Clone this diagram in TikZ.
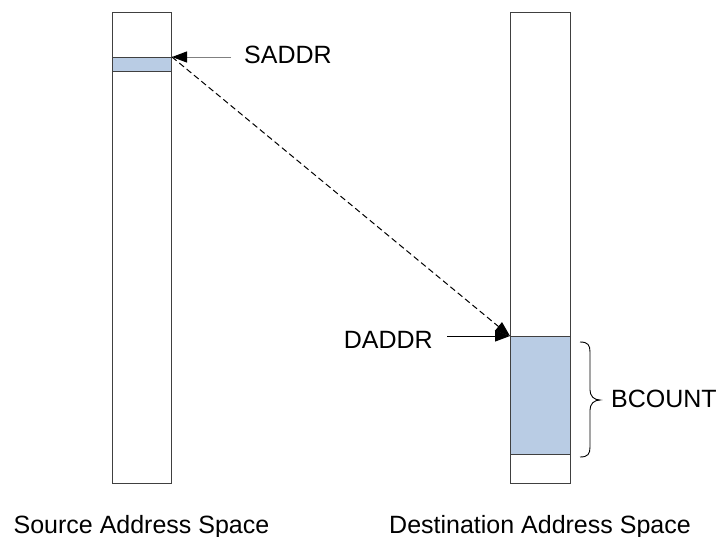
\documentclass[tikz,border=0pt]{standalone}
\usepackage{fontspec}
\setmainfont{Liberation Sans}
\usetikzlibrary{arrows.meta}
\definecolor{blkfill}{HTML}{B9CCE4}
\definecolor{edgegray}{HTML}{404040}
\tikzset{
  column/.style={draw=edgegray, line width=1pt, fill=white, inner sep=0pt, minimum width=#1, anchor=north west},
  region/.style={draw=edgegray, line width=1pt, fill=blkfill, inner sep=0pt, anchor=north west},
  lbl/.style={inner sep=0pt, font=\fontsize{25}{30}\selectfont},
  tip/.style={-{Triangle[length=15pt,width=11pt,black]}},
  pointer/.style={tip, line width=1pt},
}
\begin{document}
\begin{tikzpicture}[x=1pt,y=-1pt]
\useasboundingbox (0,0) rectangle (723,536);
% columns
\node[column=59pt, minimum height=471pt] (srccol) at (112,12) {};
\node[region, minimum width=59pt, minimum height=14pt] (srcblk) at (112,57) {};
\node[column=60pt, minimum height=471pt] (dstcol) at (510,12) {};
\node[region, minimum width=60pt, minimum height=118pt] (dstblk) at (510,336) {};
% labels
\node[lbl, anchor=west] (saddr) at (244,55) {SADDR};
\node[lbl, anchor=east] (daddr) at (433,340) {DADDR};
\node[lbl, anchor=west] (bcount) at (611,399) {BCOUNT};
\node[lbl, anchor=base] (srclbl) at (141.5,533) {Source Address Space};
\node[lbl, anchor=base] (dstlbl) at (540,533) {Destination Address Space};
% pointers
\draw[pointer, draw=black!50] ([xshift=-13pt]saddr.west |- srcblk.north east) -- (srcblk.north east);
\draw[pointer, draw=black] ([xshift=14pt]daddr.east |- dstblk.north west) -- (dstblk.north west);
\draw[pointer, draw=black, dash pattern=on 6pt off 3.5pt] (srcblk.north east) -- (dstblk.north west);
% brace
\coordinate (bt) at (580,342);
\coordinate (bb) at (580,457);
\draw[line width=0.9pt, black] (bt) .. controls (588,342) and (590,345) .. (590,352) -- (590,390)
  .. controls (590,396) and (594,400) .. (600,400)
  .. controls (594,400) and (590,404) .. (590,410) -- (590,447)
  .. controls (590,454) and (588,457) .. (bb);
\end{tikzpicture}
\end{document}
